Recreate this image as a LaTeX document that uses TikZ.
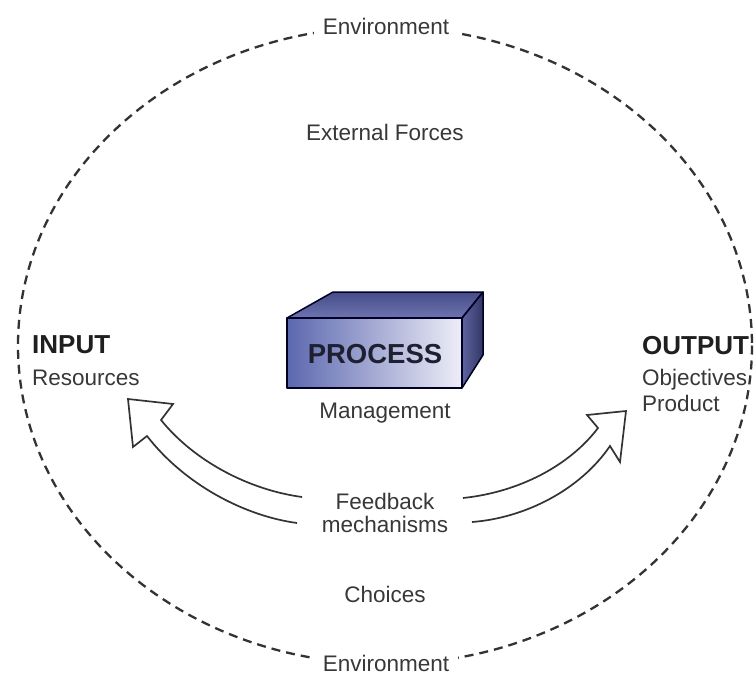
\documentclass[tikz,border=0pt]{standalone}
\usepackage{fontspec}
\setmainfont{Liberation Sans}
\begin{document}
\begin{tikzpicture}[x=1pt,y=-1pt,
  txt/.style={font=\fontsize{22.5}{27}\selectfont, text=black!78, inner sep=0pt},
  bigtxt/.style={font=\fontsize{26}{30}\selectfont\bfseries, text=black!88, inner sep=0pt},
  envlabel/.style={txt, fill=white, inner xsep=9pt, inner ysep=3pt},
  env/.style={draw=black!80, line width=2.3pt, dash pattern=on 9pt off 6pt},
  hollowarrow/.style={draw=black!80, line width=1.7pt, line join=miter, fill=white},
  boxedge/.style={draw=black!85!blue, line width=1.5pt, line join=round}]
\useasboundingbox (0,0) rectangle (756,675);
\fill[white] (0,0) rectangle (756,675);

% environment ellipse
\draw[env] (385,345.5) ellipse [x radius=367, y radius=318.5];
\node[envlabel, anchor=base] (envtop) at (386,34) {Environment};
\node[envlabel, anchor=base] (envbot) at (386,671) {Environment};

% texts
\node[txt, anchor=base] (ext) at (385,140) {External Forces};
\node[txt, anchor=base] (choices) at (385,602) {Choices};
\node[bigtxt, anchor=base west] (input) at (32,353) {INPUT};
\node[txt, anchor=base west] (res) at (32,385) {Resources};
\node[bigtxt, anchor=base west] (output) at (642,354) {OUTPUT};
\node[txt, anchor=base west] (obj) at (642,385) {Objectives};
\node[txt, anchor=base west] (prod) at (642,411) {Product};
\node[txt, anchor=base] (mgmt) at (385,418) {Management};
\node[txt, anchor=base] (fb1) at (385,509) {Feedback};
\node[txt, anchor=base] (fb2) at (385,532) {mechanisms};

% process box
\coordinate (fa) at (287,318);
\coordinate (fb) at (462,318);
\coordinate (fc) at (462,388);
\coordinate (fd) at (287,388);
\coordinate (ta) at (333,292);
\coordinate (tb) at (483,292);
\coordinate (rb) at (483,355);
\shade[top color={rgb,255:red,70;green,76;blue,135}, bottom color={rgb,255:red,110;green,116;blue,175}] (fa) -- (ta) -- (tb) -- (fb) -- cycle;
\shade[left color={rgb,255:red,95;green,100;blue,160}, right color={rgb,255:red,50;green,54;blue,100}] (fb) -- (tb) -- (rb) -- (fc) -- cycle;
\shade[left color={rgb,255:red,92;green,104;blue,175}, right color={rgb,255:red,238;green,238;blue,248}] (fa) rectangle (fc);
\draw[boxedge] (fa) -- (ta) -- (tb) -- (fb) -- cycle;
\draw[boxedge] (fb) -- (tb) -- (rb) -- (fc);
\draw[boxedge] (fa) rectangle (fc);
\node[font=\fontsize{27.5}{30}\selectfont\bfseries, text={rgb,255:red,30;green,32;blue,50}, inner sep=0pt, anchor=base] (proc) at (375,363) {PROCESS};

% left hollow arrow
\draw[hollowarrow] (302,497) .. controls (250,490) and (195,462) .. (161,420)
  -- (173,404) -- (128,399) -- (133,447) -- (147,436)
  .. controls (185,485) and (245,516) .. (297,523);
% right hollow arrow
\draw[hollowarrow] (463,498) .. controls (520,492) and (570,465) .. (598,428)
  -- (587,415) -- (626,411) -- (620,462) -- (610,446)
  .. controls (580,490) and (525,518) .. (472,522);
\end{tikzpicture}
\end{document}
